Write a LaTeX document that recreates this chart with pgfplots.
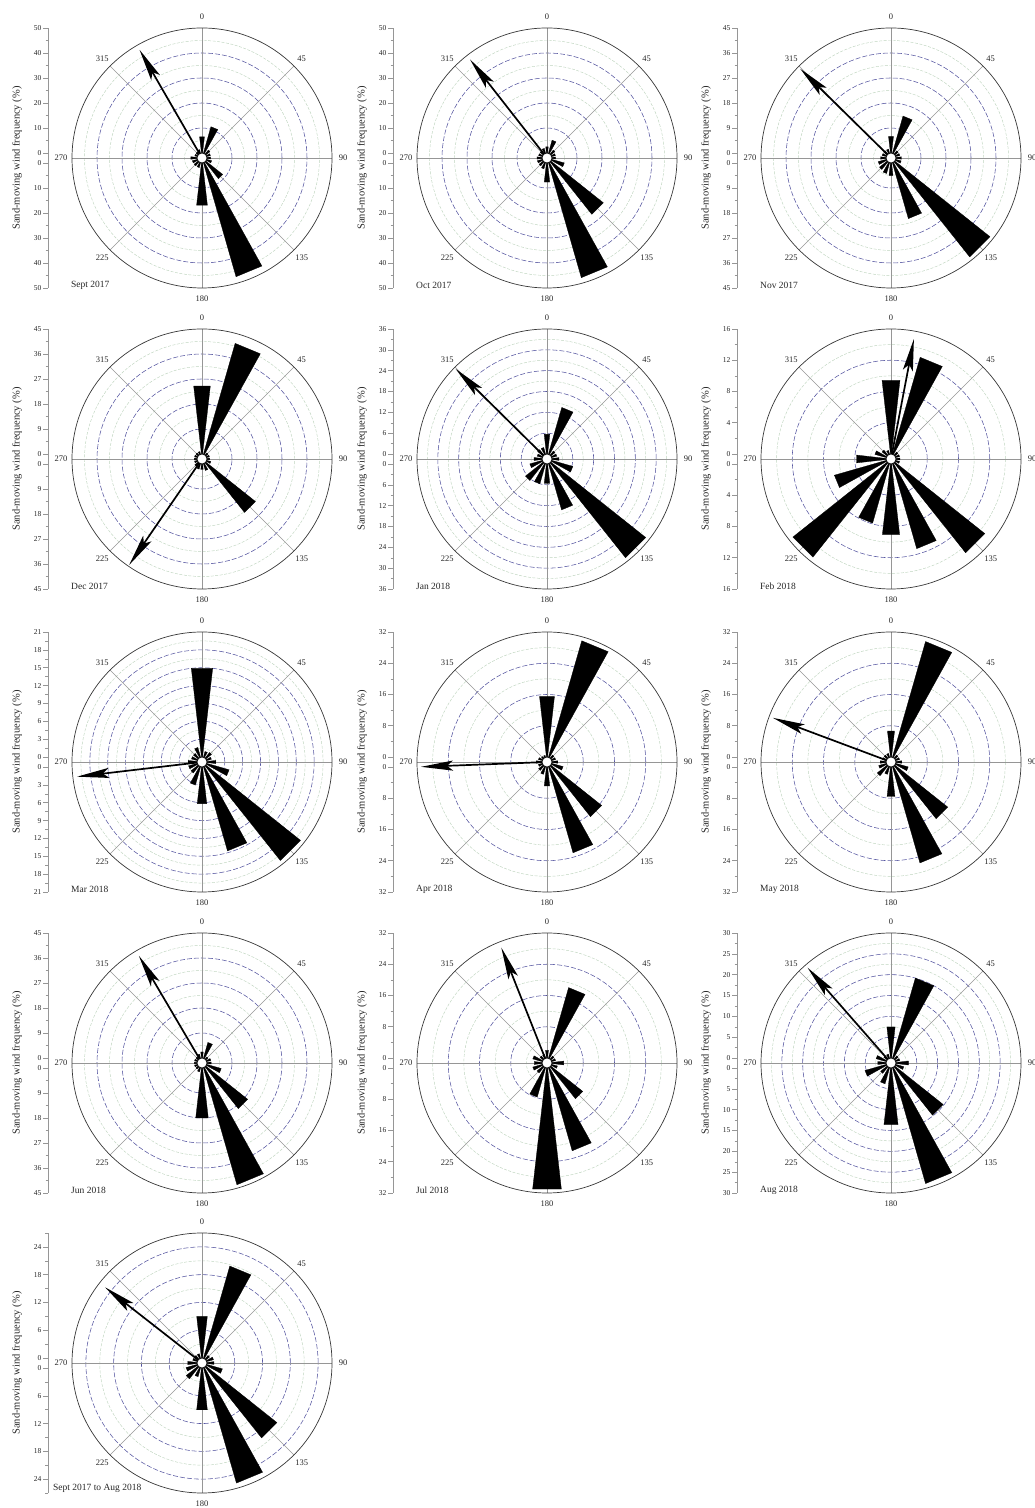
\documentclass[border=0pt]{standalone}
\usepackage{fontspec}
\setmainfont{Liberation Serif}
\usepackage{pgfplots}
\pgfplotsset{compat=1.18}
\usetikzlibrary{arrows.meta}

\definecolor{majring}{RGB}{85,85,160}
\definecolor{minring}{RGB}{190,212,190}
\definecolor{spoke}{RGB}{150,150,150}
\definecolor{rim}{RGB}{55,55,55}

\newcommand\halfw{6.5}% half opening angle of one sector bar (deg)

\pgfplotsset{
  rosebar/.style={draw=black, fill=black, line width=0.3pt, line join=miter},
  drift/.style={black, line width=1.7pt, -{Stealth[length=32pt,width=10pt,inset=6pt]}},
}

% #1 x centre (pt), #2 y centre (pt), #3 outer value, #4 tick step, #5 caption,
% #6 sector frequencies N..NNW clockwise (16 values),
% #7 resultant direction (deg), #8 resultant length, #9 caption offset x/y (pt)
\newcommand\rose[9]{%
  \pgfmathsetmacro\hole{0.04*#3}%
  \pgfmathsetmacro\unitpt{125/#3}%
  \pgfmathsetmacro\tstep{#4}%
  \pgfmathtruncatemacro\nn{floor(#3/#4+0.001)}%
  \pgfmathtruncatemacro\nnp{\nn+1}%
  % tick positions: both halves of the radius axis, offset by the central hole
  \pgfmathsetmacro\tpos{-(\hole+\nn*\tstep)}\xdef\ticklist{\tpos}%
  \foreach \j in {1,...,\nn}{\pgfmathsetmacro\tpos{-(\hole+(\nn-\j)*\tstep)}\xdef\ticklist{\ticklist,\tpos}}%
  \foreach \k in {0,...,\nn}{\pgfmathsetmacro\tpos{\hole+\k*\tstep}\xdef\ticklist{\ticklist,\tpos}}%
  \pgfmathsetmacro\tpos{\hole+0.5*\tstep}\xdef\minorlist{\tpos,-\tpos}%
  \foreach \k in {2,...,\nnp}{\pgfmathsetmacro\vv{(\k-0.5)*\tstep}\pgfmathtruncatemacro\ok{\vv<#3+0.01}%
    \ifnum\ok=1 \pgfmathsetmacro\tpos{\hole+\vv}\xdef\minorlist{\minorlist,\tpos,-\tpos}\fi}%
  \edef\tmp{\noexpand\pgfplotsset{curticks/.style={ytick={\ticklist}, minor ytick={\minorlist}}}}\tmp
  % polar grid
  \begin{scope}[shift={(#1pt,#2pt)}]
    \foreach \k in {1,...,\nnp}{\pgfmathsetmacro\vv{(\k-0.5)*\tstep}\pgfmathtruncatemacro\ok{\vv<#3-0.01}%
      \ifnum\ok=1 \pgfmathsetmacro\rr{5+\vv*\unitpt}%
      \draw[minring, line width=0.45pt, dash pattern=on 3pt off 1.5pt] (0,0) circle[radius=\rr pt];\fi}
    \foreach \k in {1,...,\nn}{\pgfmathsetmacro\vv{\k*\tstep}\pgfmathtruncatemacro\ok{\vv<#3-0.01}%
      \ifnum\ok=1 \pgfmathsetmacro\rr{5+\vv*\unitpt}%
      \draw[majring, line width=0.55pt, dash pattern=on 5pt off 2pt] (0,0) circle[radius=\rr pt];\fi}
    \foreach \a in {0,45,...,315}{\draw[spoke, line width=0.5pt] (\a:5pt) -- (\a:130pt);}
    \draw[rim, line width=0.7pt] (0,0) circle[radius=130pt];
    \foreach \bb in {0,45,...,315}{\node[font=\fontsize{8.5}{9}\selectfont, text=black!85, inner sep=0pt] at ({90-\bb}:141pt) {\bb};}
  \end{scope}
  \begin{axis}[
    at={(#1pt,#2pt)}, anchor=center,
    x=\unitpt pt, y=\unitpt pt,
    xmin=-1.232*#3, xmax=1.232*#3,
    ymin=-1.04*#3, ymax=1.04*#3,
    axis x line=none, axis y line*=left, xtick=\empty,
    clip=false,
    curticks,
    tick align=outside,
    major tick length=5pt, minor tick length=2.5pt,
    y axis line style={spoke, line width=0.5pt},
    ytick style={spoke, line width=0.5pt},
    minor y tick style={spoke, line width=0.4pt},
    yticklabel={\pgfmathtruncatemacro\lab{round(abs(\tick)-\hole)}\lab},
    yticklabel style={font=\fontsize{7.5}{8}\selectfont, text=black!85, inner sep=1.5pt},
  ]
    \foreach \fr [count=\k from 0] in {#6}{%
      \pgfmathsetmacro\brg{22.5*\k}%
      \pgfmathsetmacro\rr{\hole+\fr}%
      \pgfmathsetmacro\xa{\rr*sin(\brg-\halfw)}\pgfmathsetmacro\ya{\rr*cos(\brg-\halfw)}%
      \pgfmathsetmacro\xb{\rr*sin(\brg+\halfw)}\pgfmathsetmacro\yb{\rr*cos(\brg+\halfw)}%
      \edef\plotcmd{\noexpand\addplot[rosebar] coordinates {(0,0) (\xa,\ya) (\xb,\yb)} -- cycle;}\plotcmd
    }
    \pgfmathsetmacro\xa{(\hole+#8)*sin(#7)}\pgfmathsetmacro\ya{(\hole+#8)*cos(#7)}%
    \edef\plotcmd{\noexpand\addplot[drift] coordinates {(0,0) (\xa,\ya)};}\plotcmd
  \end{axis}
  % central hole
  \filldraw[fill=white, draw=black, line width=0.6pt] (#1pt,#2pt) circle[radius=5pt];
  \node[rotate=90, font=\fontsize{10.5}{11}\selectfont, text=black!85] at (#1pt-185pt,#2pt) {Sand-moving wind frequency (\%)};
  \node[anchor=west, font=\fontsize{9.5}{10}\selectfont, text=black!85, inner sep=0pt] at ($(#1pt,#2pt)+(#9)$) {#5};
}
\usetikzlibrary{calc}

\begin{document}
\begin{tikzpicture}
\useasboundingbox (0,0) rectangle (1035pt,1508pt);
% row 1
\rose{202}{1350}{50}{10}{Sept 2017}{6.5,11,2,1.5,1.5,2,8.6,47.4,17,2,2,2,2.5,1,1,1.5}{330}{48}{-131pt,-127pt}
\rose{547}{1350}{50}{10}{Oct 2017}{2.5,5.4,2,1.5,1.5,5.2,26.8,47.8,7.7,2.5,2,2,2,1.5,1.5,2}{322}{48}{-131pt,-127pt}
\rose{891}{1350}{45}{9}{Nov 2017}{6,13.9,1.5,1.5,2,2,43.7,20.9,4.5,4,3.5,3,2,1.5,1.5,1.5}{314.5}{44}{-131pt,-127pt}
% row 2
\rose{202}{1049}{45}{9}{Dec 2017}{24.6,41.5,1,1,1,1.5,22.8,2.5,2,2,1.5,1,1,1,1,1}{214.5}{44.5}{-131pt,-127pt}
\rose{547}{1049}{36}{6}{Jan 2018}{5.7,14,1.5,1.5,2,6.3,34.9,13.8,5.6,6,6.5,3.7,2.3,1.5,2,2}{314.6}{35.5}{-131pt,-127pt}
\rose{891}{1049}{16}{4}{Feb 2018}{9.5,12.9,0.5,0.5,0.5,0.5,14.7,11.3,9.1,7.9,15.4,6.9,3.8,1.5,0.8,0.5}{10.8}{15}{-131pt,-127pt}
% row 3
\rose{202}{746}{21}{3}{Mar 2018}{15,1,1.2,0.8,1.5,3.9,20.3,14.7,6.2,3.2,1.5,1.5,1.5,1,1,1.7}{263.3}{20.3}{-131pt,-127pt}
\rose{547}{746}{32}{8}{Apr 2018}{15.6,31,1,1,1.5,3,16.6,22.9,4.9,2,1.5,1,1.5,1,0.5,0.5}{267.8}{31}{-131pt,-127pt}
\rose{891}{746}{32}{8}{May 2018}{6.7,30.8,1,1,1.5,3.3,17.3,25.6,7.6,2,3.2,2,1.5,1,1,1}{290.5}{31}{-131pt,-127pt}
% row 4
\rose{202}{445}{45}{9}{Jun 2018}{2.2,5.9,1,1.5,1.5,5.4,19.2,43.8,18.1,1.5,1,1,1,1,1,1.5}{329.5}{43}{-131pt,-127pt}
\rose{547}{445}{32}{8}{Jul 2018}{2,18.8,1,1,3,1.5,10.4,22.1,31.2,7.8,2,2.5,2,2.5,1,1}{338.4}{30.5}{-131pt,-127pt}
\rose{891}{445}{30}{5}{Aug 2018}{7.5,20,1,1,3,2,14.8,28.9,13.7,4,2,5.3,2,2.5,1,1}{318.8}{29.2}{-131pt,-127pt}
% row 5: whole period, radius axis runs to 27
\rose{202}{145}{27}{6}{Sept 2017 to Aug 2018}{9,20.7,1,1.5,1.5,3.5,19.6,25.9,9.1,2,3.3,2.5,2,1,1,1}{308}{25.5}{-149pt,-125pt}
\end{tikzpicture}
\end{document}
